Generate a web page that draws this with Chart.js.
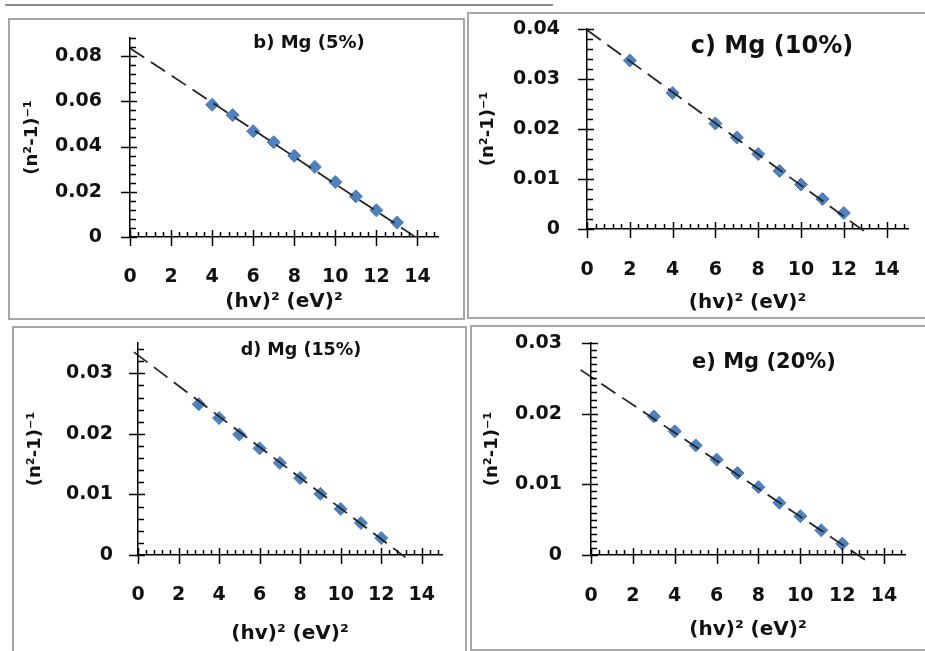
<!DOCTYPE html>
<html>
<head>
<meta charset="utf-8">
<script src="https://cdn.jsdelivr.net/npm/chart.js@4.4.1/dist/chart.umd.min.js"></script>
<style>
  body { margin: 0; background: #fff; width: 925px; height: 651px; position: relative; overflow: hidden; }
  .box { position: absolute; border: 2px solid #a6a6a6; box-sizing: border-box; }
  .rule { position: absolute; left: 5px; top: 4px; width: 548px; height: 2px; background: #8c8c8c; }
  canvas { position: absolute; }
  .ttl { position: absolute; font-family: "DejaVu Sans"; font-weight: bold; color: #111; transform: translate(-50%, -50%); white-space: nowrap; }
</style>
</head>
<body>
<div class="rule"></div>
<div class="box" style="left:8px;top:18px;width:457px;height:302px"></div>
<div class="box" style="left:467px;top:12px;width:470px;height:307px"></div>
<div class="box" style="left:12px;top:326px;width:455px;height:330px"></div>
<div class="box" style="left:470px;top:325px;width:470px;height:326px"></div>

<canvas id="pb" width="452" height="297" style="left:10px;top:20px"></canvas>
<canvas id="pc" width="456" height="302" style="left:469px;top:14px"></canvas>
<canvas id="pd" width="450" height="321" style="left:14px;top:328px"></canvas>
<canvas id="pe" width="453" height="321" style="left:472px;top:327px"></canvas>

<div class="ttl" style="left:309px;top:41px;font-size:18px">b) Mg (5%)</div>
<div class="ttl" style="left:772px;top:45px;font-size:24px">c) Mg (10%)</div>
<div class="ttl" style="left:301px;top:349px;font-size:17.5px">d) Mg (15%)</div>
<div class="ttl" style="left:764px;top:361px;font-size:21px">e) Mg (20%)</div>

<script>
// shared x axis
var xTicks = [0, 2, 4, 6, 8, 10, 12, 14];
var xMax = 15;
var xMinor = 0.4;

// b) Mg (5%)
var bX = [4, 5, 6, 7, 8, 9, 10, 11, 12, 13];
var bY = [0.0585, 0.0539, 0.0468, 0.0419, 0.0359, 0.031, 0.0243, 0.018, 0.0118, 0.0064];
var bFitX = [0, 13.9];
var bFitY = [0.0835, 0];
var bTicks = [0, 0.02, 0.04, 0.06, 0.08];

// c) Mg (10%)
var cX = [2, 4, 6, 7, 8, 9, 10, 11, 12];
var cY = [0.0337, 0.0272, 0.0211, 0.0183, 0.015, 0.0116, 0.0089, 0.006, 0.0032];
var cFitX = [0, 13.1];
var cFitY = [0.0398, -0.0009];
var cTicks = [0, 0.01, 0.02, 0.03, 0.04];

// d) Mg (15%)
var dX = [3, 4, 5, 6, 7, 8, 9, 10, 11, 12];
var dY = [0.0249, 0.0226, 0.0199, 0.0176, 0.0152, 0.0127, 0.0101, 0.0076, 0.0053, 0.0028];
var dFitX = [-0.2, 13.2];
var dFitY = [0.0335, -0.0004];
var dTicks = [0, 0.01, 0.02, 0.03];

// e) Mg (20%)
var eX = [3, 4, 5, 6, 7, 8, 9, 10, 11, 12];
var eY = [0.0196, 0.0175, 0.0155, 0.0135, 0.0116, 0.0096, 0.0074, 0.0055, 0.0035, 0.0016];
var eFitX = [-0.5, 13.1];
var eFitY = [0.0262, -0.0007];
var eTicks = [0, 0.01, 0.02, 0.03];

Chart.defaults.font.family = "DejaVu Sans";
Chart.defaults.color = "#111";

function pairs(xs, ys) {
  return xs.map(function (x, i) { return { x: x, y: ys[i] }; });
}

// Excel style tick marks: major ones cross the axis, minor ones point inwards
var tickMarks = {
  id: 'tickMarks',
  afterDraw: function (chart) {
    var o = chart.options.plugins.tickMarks;
    var xs = chart.scales.x, ys = chart.scales.y;
    var ctx = chart.ctx;
    var ax = xs.left, ay = ys.bottom;
    ctx.save();
    ctx.strokeStyle = '#000';
    ctx.lineWidth = 1.5;
    ctx.beginPath();
    var v, p;
    for (v = 0; v <= xMax + 1e-9; v += xMinor) {
      p = Math.round(xs.getPixelForValue(v)) + 0.5;
      ctx.moveTo(p, ay); ctx.lineTo(p, ay - 5);
    }
    xTicks.forEach(function (t) {
      p = Math.round(xs.getPixelForValue(t)) + 0.5;
      ctx.moveTo(p, ay - 7); ctx.lineTo(p, ay + 9);
    });
    for (v = 0; v <= o.yMax + 1e-9; v += o.yMinor) {
      p = Math.round(ys.getPixelForValue(v)) + 0.5;
      ctx.moveTo(ax, p); ctx.lineTo(ax + 6, p);
    }
    o.yTicks.forEach(function (t) {
      p = Math.round(ys.getPixelForValue(t)) + 0.5;
      ctx.moveTo(ax - 9, p); ctx.lineTo(ax + 7, p);
    });
    ctx.stroke();
    ctx.restore();
  }
};

function makePanel(id, px, py, fitX, fitY, yTicks, p) {
  new Chart(document.getElementById(id), {
    type: 'scatter',
    data: {
      datasets: [{
        data: pairs(fitX, fitY),
        showLine: true,
        borderColor: '#222',
        borderWidth: 1.75,
        borderDash: [17, 8],
        pointRadius: 0,
        clip: false
      }, {
        data: pairs(px, py),
        pointStyle: 'rectRot',
        pointRadius: 6.5,
        backgroundColor: '#4f81bd',
        borderColor: '#4a7ab5',
        borderWidth: 1
      }]
    },
    options: {
      responsive: false,
      animation: false,
      layout: { padding: { top: p.top, right: p.right, left: 0, bottom: 0 } },
      plugins: {
        legend: { display: false },
        tooltip: { enabled: false },
        tickMarks: { yTicks: yTicks, yMax: p.yMax, yMinor: p.yMinor }
      },
      scales: {
        x: {
          type: 'linear',
          min: 0,
          max: xMax,
          afterBuildTicks: function (s) { s.ticks = xTicks.map(function (v) { return { value: v }; }); },
          afterFit: function (s) { s.height = p.xh; },
          // tick marks are drawn by the plugin; tickLength only spaces the labels
          grid: { display: false, drawTicks: true, tickLength: p.xpad },
          border: { display: true, color: '#000', width: 1.5 },
          ticks: { padding: 0, maxRotation: 0, font: { size: 19, weight: 'bold' }, color: '#111' },
          title: {
            display: true,
            text: '(hv)² (eV)²',
            font: { size: 20, weight: 'bold' },
            color: '#111',
            padding: { top: 0, bottom: p.xtp }
          }
        },
        y: {
          type: 'linear',
          min: 0,
          max: p.yMax,
          afterBuildTicks: function (s) { s.ticks = yTicks.map(function (v) { return { value: v }; }); },
          afterFit: function (s) { s.width = p.yw; },
          grid: { display: false, drawTicks: true, tickLength: p.ypad },
          border: { display: true, color: '#000', width: 1.5 },
          ticks: {
            padding: 0,
            font: { size: 19, weight: 'bold' },
            color: '#111',
            callback: function (v) { return v === 0 ? '0' : v.toFixed(2); }
          },
          title: {
            display: true,
            text: '(n²-1)⁻¹',
            font: { size: 18, weight: 'bold' },
            color: '#111',
            padding: { top: p.ytp, bottom: 0 }
          }
        }
      }
    },
    plugins: [tickMarks]
  });
}

makePanel('pb', bX, bY, bFitX, bFitY, bTicks,
  { top: 18, right: 24, yw: 120, xh: 80, xpad: 29, ypad: 28, xtp: 3, ytp: 12, yMax: 0.088, yMinor: 0.004 });
makePanel('pc', cX, cY, cFitX, cFitY, cTicks,
  { top: 15, right: 17, yw: 118, xh: 87, xpad: 30, ypad: 27, xtp: 1, ytp: 9, yMax: 0.04, yMinor: 0.002 });
makePanel('pd', dX, dY, dFitX, dFitY, dTicks,
  { top: 15, right: 22, yw: 124, xh: 94, xpad: 29, ypad: 25, xtp: 3, ytp: 11, yMax: 0.035, yMinor: 0.002 });
makePanel('pe', eX, eY, eFitX, eFitY, eTicks,
  { top: 16, right: 20, yw: 119, xh: 93, xpad: 30, ypad: 29, xtp: 6, ytp: 10, yMax: 0.03, yMinor: 0.001 });
</script>
</body>
</html>
